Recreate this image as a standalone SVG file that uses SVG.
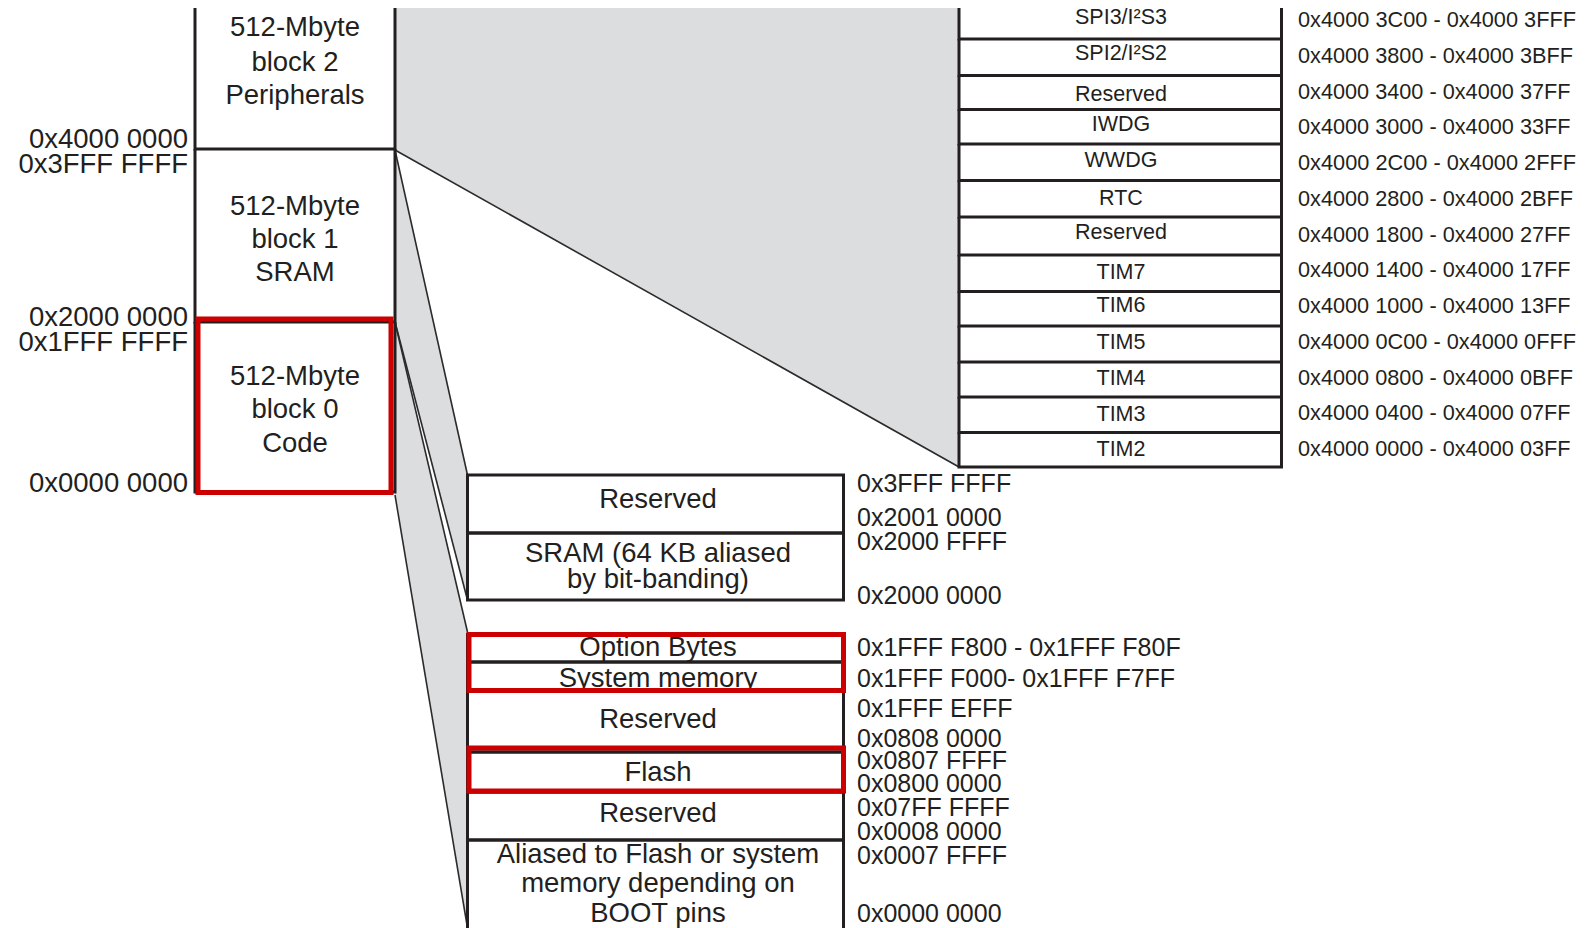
<svg xmlns="http://www.w3.org/2000/svg" width="1588" height="928" viewBox="0 0 1588 928">
<style>
.bk{fill:none;stroke:#231f20;stroke-width:3}
.rd{fill:none;stroke:#cc0000;stroke-width:5}
.wg{fill:#dcdddf;stroke:none}
.cn{fill:none;stroke:#2b2b2b;stroke-width:1.6}
text{font-family:"Liberation Sans",Arial,Helvetica,sans-serif;fill:#231f20}
.big{font-size:27.5px}
.lab{font-size:25px}
.pn{font-size:21.5px;text-anchor:middle}
.pa{font-size:22px}
.m{text-anchor:middle}
.e{text-anchor:end}
</style>
<rect width="1588" height="928" fill="#ffffff"/>
<g id="wedges">
<polygon class="wg" points="395,8 959,8 959,467 395,150"/>
<polygon class="wg" points="395,150 467.5,475 467.5,600 395,322"/>
<polygon class="wg" points="395,322 467.5,632 467.5,928 395,495"/>
</g>
<g id="connectors">
<line class="cn" x1="395" y1="150" x2="959" y2="467"/>
<line class="cn" x1="395" y1="150" x2="467.5" y2="475"/>
<line class="cn" x1="395" y1="322" x2="467.5" y2="600"/>
<line class="cn" x1="395" y1="322" x2="467.5" y2="632"/>
<line class="cn" x1="395" y1="495" x2="467.5" y2="928"/>
</g>
<g id="block2">
<path class="bk" d="M195,8 V149 H395 V8"/>
<text class="big m" x="295" y="36">512-Mbyte</text>
<text class="big m" x="295" y="71">block 2</text>
<text class="big m" x="295" y="104">Peripherals</text>
</g>
<g id="block1">
<path class="bk" d="M195,149 V322 H395 V149"/>
<text class="big m" x="295" y="215">512-Mbyte</text>
<text class="big m" x="295" y="248">block 1</text>
<text class="big m" x="295" y="281">SRAM</text>
</g>
<g id="block0">
<path class="bk" d="M195,322 V492 H395 V322"/>
<rect class="rd" x="198" y="319" width="193" height="173.5"/>
<text class="big m" x="295" y="385">512-Mbyte</text>
<text class="big m" x="295" y="418">block 0</text>
<text class="big m" x="295" y="452">Code</text>
</g>
<g id="left-addresses">
<text class="big e" x="188" y="148">0x4000 0000</text>
<text class="big e" x="188" y="173">0x3FFF FFFF</text>
<text class="big e" x="188" y="326">0x2000 0000</text>
<text class="big e" x="188" y="351">0x1FFF FFFF</text>
<text class="big e" x="188" y="492">0x0000 0000</text>
</g>
<g id="periph-spi3"><path class="bk" d="M959,8 V39 H1281.5 V8"/><text class="pn" x="1121" y="23.5">SPI3/I²S3</text></g>
<g id="periph-spi2"><path class="bk" d="M959,39 V75.5 H1281.5 V39"/><text class="pn" x="1121" y="60">SPI2/I²S2</text></g>
<g id="periph-res1"><path class="bk" d="M959,75.5 V109.5 H1281.5 V75.5"/><text class="pn" x="1121" y="100.5">Reserved</text></g>
<g id="periph-iwdg"><path class="bk" d="M959,109.5 V144 H1281.5 V109.5"/><text class="pn" x="1121" y="131">IWDG</text></g>
<g id="periph-wwdg"><path class="bk" d="M959,144 V180.5 H1281.5 V144"/><text class="pn" x="1121" y="167">WWDG</text></g>
<g id="periph-rtc"><path class="bk" d="M959,180.5 V217 H1281.5 V180.5"/><text class="pn" x="1121" y="204.5">RTC</text></g>
<g id="periph-res2"><path class="bk" d="M959,217 V255 H1281.5 V217"/><text class="pn" x="1121" y="239">Reserved</text></g>
<g id="periph-tim7"><path class="bk" d="M959,255 V291.5 H1281.5 V255"/><text class="pn" x="1121" y="278.5">TIM7</text></g>
<g id="periph-tim6"><path class="bk" d="M959,291.5 V326 H1281.5 V291.5"/><text class="pn" x="1121" y="312">TIM6</text></g>
<g id="periph-tim5"><path class="bk" d="M959,326 V362 H1281.5 V326"/><text class="pn" x="1121" y="348.5">TIM5</text></g>
<g id="periph-tim4"><path class="bk" d="M959,362 V397 H1281.5 V362"/><text class="pn" x="1121" y="385">TIM4</text></g>
<g id="periph-tim3"><path class="bk" d="M959,397 V432.5 H1281.5 V397"/><text class="pn" x="1121" y="421">TIM3</text></g>
<g id="periph-tim2"><path class="bk" d="M959,432.5 V467 H1281.5 V432.5"/><text class="pn" x="1121" y="456">TIM2</text></g>
<g id="periph-addresses">
<text class="pa" x="1298" y="27" textLength="278" lengthAdjust="spacingAndGlyphs">0x4000 3C00 - 0x4000 3FFF</text>
<text class="pa" x="1298" y="63" textLength="275" lengthAdjust="spacingAndGlyphs">0x4000 3800 - 0x4000 3BFF</text>
<text class="pa" x="1298" y="98.5" textLength="272.5" lengthAdjust="spacingAndGlyphs">0x4000 3400 - 0x4000 37FF</text>
<text class="pa" x="1298" y="134.3" textLength="272.5" lengthAdjust="spacingAndGlyphs">0x4000 3000 - 0x4000 33FF</text>
<text class="pa" x="1298" y="170" textLength="278" lengthAdjust="spacingAndGlyphs">0x4000 2C00 - 0x4000 2FFF</text>
<text class="pa" x="1298" y="205.8" textLength="275" lengthAdjust="spacingAndGlyphs">0x4000 2800 - 0x4000 2BFF</text>
<text class="pa" x="1298" y="241.5" textLength="272.5" lengthAdjust="spacingAndGlyphs">0x4000 1800 - 0x4000 27FF</text>
<text class="pa" x="1298" y="277.3" textLength="272.5" lengthAdjust="spacingAndGlyphs">0x4000 1400 - 0x4000 17FF</text>
<text class="pa" x="1298" y="313" textLength="272.5" lengthAdjust="spacingAndGlyphs">0x4000 1000 - 0x4000 13FF</text>
<text class="pa" x="1298" y="348.8" textLength="278" lengthAdjust="spacingAndGlyphs">0x4000 0C00 - 0x4000 0FFF</text>
<text class="pa" x="1298" y="384.5" textLength="275" lengthAdjust="spacingAndGlyphs">0x4000 0800 - 0x4000 0BFF</text>
<text class="pa" x="1298" y="420.3" textLength="272.5" lengthAdjust="spacingAndGlyphs">0x4000 0400 - 0x4000 07FF</text>
<text class="pa" x="1298" y="456" textLength="272.5" lengthAdjust="spacingAndGlyphs">0x4000 0000 - 0x4000 03FF</text>
</g>
<g id="sram-reserved"><rect class="bk" x="467.5" y="475" width="376" height="58"/><text class="big m" x="658" y="508">Reserved</text></g>
<g id="sram-main"><rect class="bk" x="467.5" y="533" width="376" height="67"/><text class="big m" x="658" y="561.5">SRAM (64 KB aliased</text><text class="big m" x="658" y="588">by bit-banding)</text></g>
<g id="option-bytes"><rect class="bk" x="467.5" y="634.5" width="376" height="27.5"/><text class="big m" x="658" y="656">Option Bytes</text></g>
<g id="system-memory"><rect class="bk" x="467.5" y="662" width="376" height="28.5"/><text class="big m" x="658" y="686.5">System memory</text></g>
<g id="code-reserved1"><rect class="bk" x="467.5" y="690.5" width="376" height="61.5"/><text class="big m" x="658" y="728">Reserved</text></g>
<g id="flash"><rect class="bk" x="467.5" y="752" width="376" height="40"/><text class="big m" x="658" y="781">Flash</text></g>
<g id="code-reserved2"><rect class="bk" x="467.5" y="792" width="376" height="48"/><text class="big m" x="658" y="821.5">Reserved</text></g>
<g id="aliased"><rect class="bk" x="467.5" y="840" width="376" height="95"/><text class="big m" x="658" y="863">Aliased to Flash or system</text><text class="big m" x="658" y="891.5">memory depending on</text><text class="big m" x="658" y="921.5">BOOT pins</text></g>
<g id="highlights">
<rect class="rd" x="469" y="634.5" width="374.5" height="56"/>
<rect class="rd" x="469" y="748" width="374.5" height="43"/>
</g>
<g id="lower-addresses">
<text class="lab" x="857" y="492">0x3FFF FFFF</text>
<text class="lab" x="857" y="525.5">0x2001 0000</text>
<text class="lab" x="857" y="550">0x2000 FFFF</text>
<text class="lab" x="857" y="604">0x2000 0000</text>
<text class="lab" x="857" y="656">0x1FFF F800 - 0x1FFF F80F</text>
<text class="lab" x="857" y="686.5">0x1FFF F000- 0x1FFF F7FF</text>
<text class="lab" x="857" y="716.5">0x1FFF EFFF</text>
<text class="lab" x="857" y="746.5">0x0808 0000</text>
<text class="lab" x="857" y="768.5">0x0807 FFFF</text>
<text class="lab" x="857" y="792">0x0800 0000</text>
<text class="lab" x="857" y="816">0x07FF FFFF</text>
<text class="lab" x="857" y="840">0x0008 0000</text>
<text class="lab" x="857" y="863.5">0x0007 FFFF</text>
<text class="lab" x="857" y="921.5">0x0000 0000</text>
</g>
</svg>
